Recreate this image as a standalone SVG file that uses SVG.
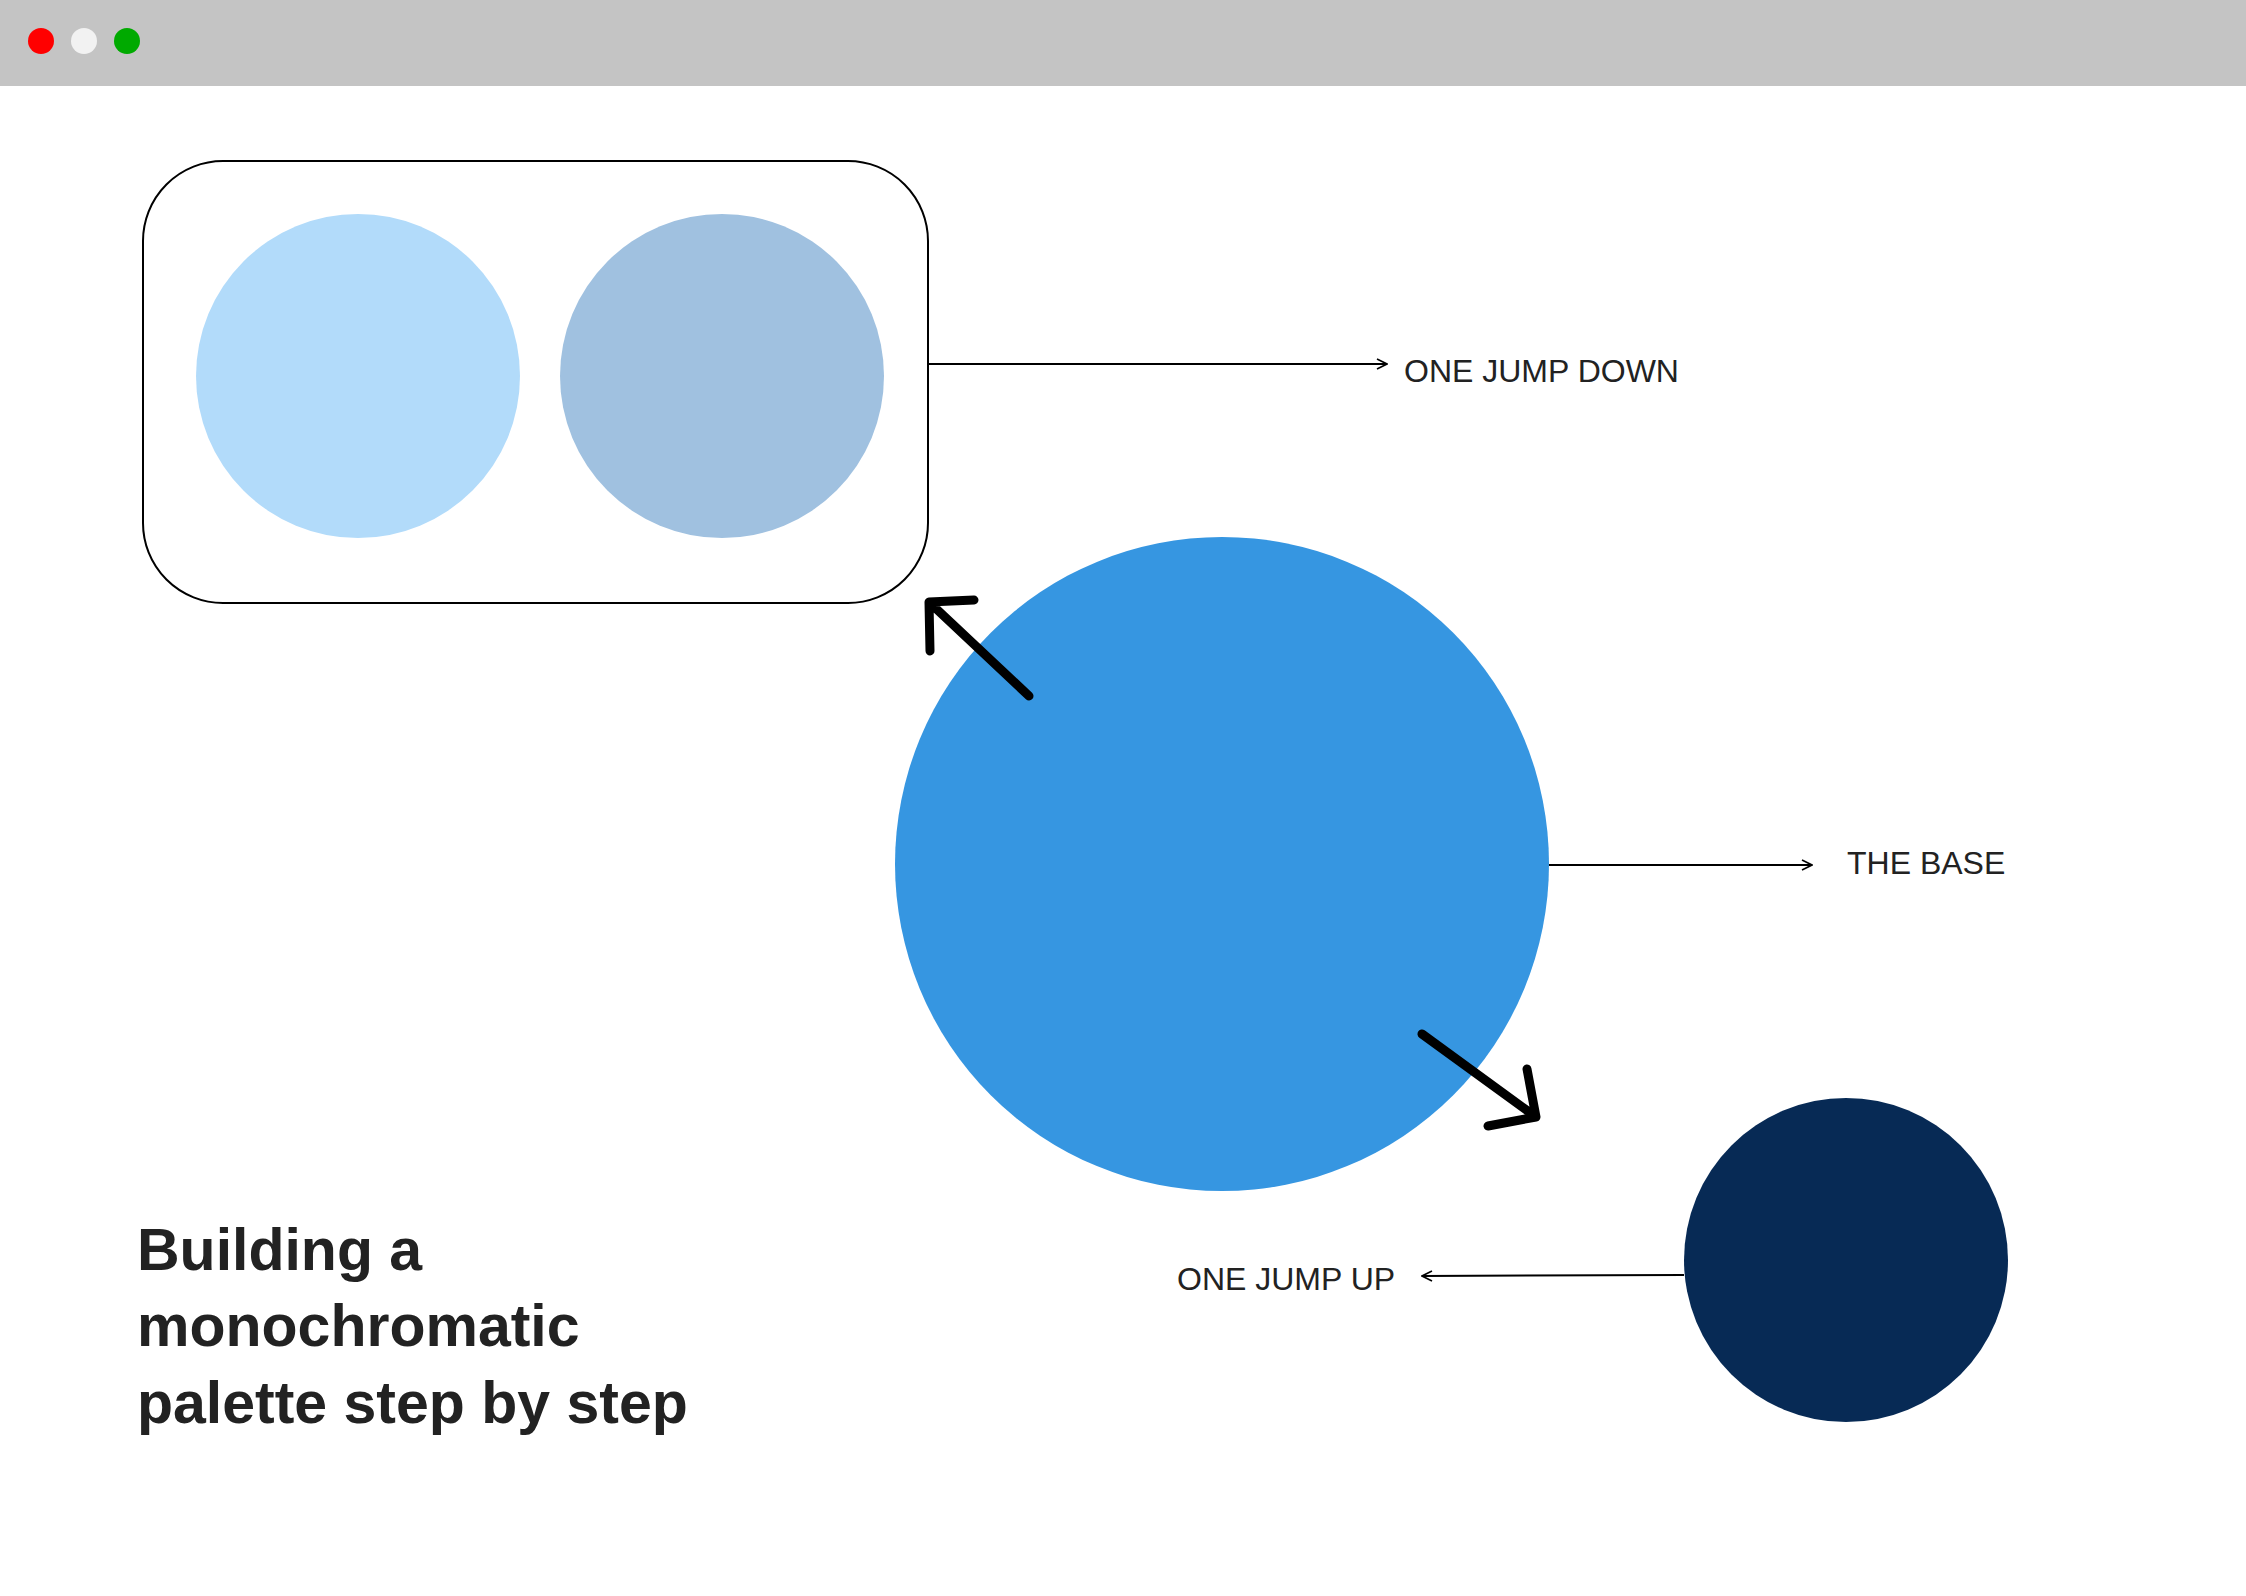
<svg xmlns="http://www.w3.org/2000/svg" width="2246" height="1596" viewBox="0 0 2246 1596">
<style>
.lbl{font-family:"Liberation Sans",Arial,sans-serif;font-size:32px;fill:#222}
.ttl{font-family:"Liberation Sans",Arial,sans-serif;font-size:59px;font-weight:bold;fill:#222}
.thin{stroke:#000;stroke-width:2;fill:none}
.thick{stroke:#000;stroke-width:9;fill:none;stroke-linecap:round;stroke-linejoin:round}
</style>
<defs>
<marker id="ah" viewBox="0 0 12 12" refX="11" refY="6" markerWidth="12" markerHeight="12" markerUnits="userSpaceOnUse" orient="auto">
<path d="M1,1 L11,6 L1,11" fill="none" stroke="#000" stroke-width="1.6"/>
</marker>
</defs>
<rect width="2246" height="1596" fill="#fff"/>
<g id="titlebar">
<rect x="0" y="0" width="2246" height="86" fill="#c4c4c4"/>
<circle cx="41" cy="41" r="13" fill="#f00"/>
<circle cx="84" cy="41" r="13" fill="#f2f2f2"/>
<circle cx="127" cy="41" r="13" fill="#00aa00"/>
</g>
<g id="down-group">
<rect x="143" y="161" width="785" height="442" rx="80" ry="80" fill="#fff" stroke="#000" stroke-width="2"/>
<circle cx="358" cy="376" r="162" fill="#b2dbfa"/>
<circle cx="722" cy="376" r="162" fill="#a0c1e0"/>
</g>
<g id="base"><circle cx="1222" cy="864" r="327" fill="#3696e1"/></g>
<g id="up"><circle cx="1846" cy="1260" r="162" fill="#072a55"/></g>
<g id="connectors">
<line class="thin" x1="928" y1="364" x2="1387" y2="364" marker-end="url(#ah)"/>
<line class="thin" x1="1549" y1="865" x2="1812" y2="865" marker-end="url(#ah)"/>
<line class="thin" x1="1684" y1="1275" x2="1422" y2="1276" marker-end="url(#ah)"/>
<path class="thick" d="M1029,696 L929,602 M974,600 L929,602 L930,651"/>
<path class="thick" d="M1422,1034 L1536,1117 M1488,1126 L1536,1117 L1527,1069"/>
</g>
<text class="lbl" x="1404" y="382">ONE JUMP DOWN</text>
<text class="lbl" x="1847" y="874">THE BASE</text>
<text class="lbl" x="1177" y="1290">ONE JUMP UP</text>
<g id="title">
<text class="ttl" x="137" y="1270">Building a</text>
<text class="ttl" x="137" y="1346">monochromatic</text>
<text class="ttl" x="137" y="1423">palette step by step</text>
</g>
</svg>
